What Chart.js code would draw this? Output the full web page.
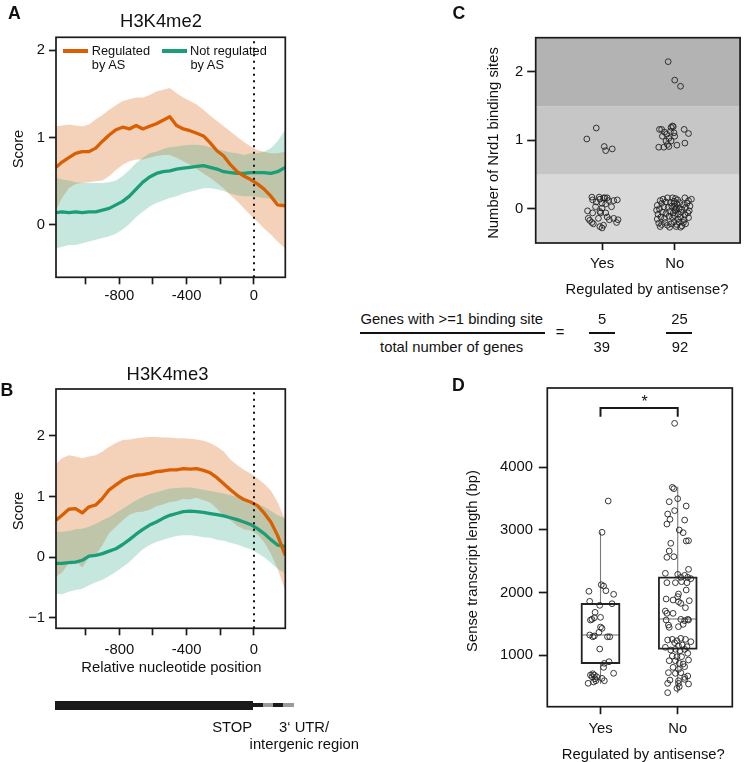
<!DOCTYPE html>
<html><head><meta charset="utf-8"><title>Figure</title>
<script src="https://cdn.jsdelivr.net/npm/chart.js@4.4.1/dist/chart.umd.min.js"></script>
<style>
html,body{margin:0;padding:0;background:#fff}
#fig{position:relative;width:745px;height:762px;overflow:hidden;font-family:"Liberation Sans",Arial,Helvetica,sans-serif;color:#111}
canvas{position:absolute}
.t{position:absolute;white-space:nowrap;line-height:1;font-size:14.8px}
.c{transform:translate(-50%,-50%)}
.l{transform:translate(0,-50%)}
.r{transform:translate(-50%,-50%) rotate(-90deg)}
.b{font-weight:bold;font-size:17.7px}
.bar{position:absolute}
</style></head><body><div id="fig">
<canvas id="chartA" width="300" height="310" style="left:0;top:0"></canvas>
<canvas id="chartB" width="300" height="300" style="left:0;top:370px"></canvas>
<canvas id="chartC" width="355" height="300" style="left:390px;top:0"></canvas>
<canvas id="chartD" width="355" height="392" style="left:390px;top:370px"></canvas>

<div class="t b l" style="left:8px;top:13.7px">A</div>
<div class="t c" style="left:161px;top:20.5px;font-size:18.4px">H3K4me2</div>
<div class="bar" style="left:63.3px;top:49px;width:25px;height:3.5px;background:#d95f02"></div>
<div class="bar" style="left:162.3px;top:49px;width:25px;height:3.5px;background:#1b9e77"></div>
<div class="t l" style="left:91.7px;top:50.5px;font-size:12.8px">Regulated</div>
<div class="t l" style="left:91.8px;top:65px;font-size:12.8px">by AS</div>
<div class="t l" style="left:190px;top:50.5px;font-size:12.8px">Not regulated</div>
<div class="t l" style="left:190.5px;top:65px;font-size:12.8px">by AS</div>
<div class="t r" style="left:17.5px;top:149px">Score</div>

<div class="t b l" style="left:0.5px;top:390.8px">B</div>
<div class="t c" style="left:167.5px;top:374px;font-size:18.4px">H3K4me3</div>
<div class="t r" style="left:18px;top:511px">Score</div>
<div class="t c" style="left:171.3px;top:667px">Relative nucleotide position</div>

<div class="bar" style="left:55px;top:701px;width:198.3px;height:9px;background:#1a1a1a"></div>
<div class="bar" style="left:253.3px;top:703.3px;width:9.4px;height:4px;background:#1a1a1a"></div>
<div class="bar" style="left:262.7px;top:703.3px;width:10px;height:4px;background:#9a9a9a"></div>
<div class="bar" style="left:272.7px;top:703.3px;width:10px;height:4px;background:#1a1a1a"></div>
<div class="bar" style="left:282.7px;top:703.3px;width:11.3px;height:4px;background:#9a9a9a"></div>
<div class="t c" style="left:232.2px;top:727.4px">STOP</div>
<div class="t l" style="left:279px;top:727.4px">3‘ UTR/</div>
<div class="t c" style="left:304.3px;top:744px">intergenic region</div>

<div class="t b l" style="left:452.6px;top:14.3px">C</div>
<div class="t r" style="left:492.5px;top:142.5px">Number of Nrd1 binding sites</div>
<div class="t c" style="left:647px;top:288.5px">Regulated by antisense?</div>

<div class="t c" style="left:451.7px;top:318.8px">Genes with &gt;=1 binding site</div>
<div class="bar" style="left:360px;top:331.8px;width:185px;height:1.9px;background:#111"></div>
<div class="t c" style="left:451.7px;top:347px">total number of genes</div>
<div class="t c" style="left:560px;top:332.3px">=</div>
<div class="t c" style="left:602px;top:318.8px">5</div>
<div class="bar" style="left:589.3px;top:331.8px;width:25.7px;height:1.9px;background:#111"></div>
<div class="t c" style="left:601.8px;top:347px">39</div>
<div class="t c" style="left:679.6px;top:318.8px">25</div>
<div class="bar" style="left:666px;top:331.8px;width:25.7px;height:1.9px;background:#111"></div>
<div class="t c" style="left:680px;top:347px">92</div>

<div class="t b l" style="left:452px;top:386.3px">D</div>
<div class="t c" style="left:644.7px;top:402px;font-size:16px">*</div>
<div class="t r" style="left:472px;top:560.8px">Sense transcript length (bp)</div>
<div class="t c" style="left:643.3px;top:753.8px">Regulated by antisense?</div>
</div>
<script>
// ---------- Panels A/B: metagene profiles ----------
const positions = [-1176,-1140,-1100,-1060,-1020,-980,-940,-900,-860,-820,-780,-740,-700,-660,-620,-580,-540,-500,-460,-420,-380,-340,-300,-260,-220,-180,-140,-100,-60,-20,20,60,100,140,186];

const a_reg_mean  = [0.66,0.72,0.77,0.82,0.84,0.84,0.88,0.96,1.03,1.09,1.12,1.10,1.14,1.10,1.13,1.16,1.20,1.24,1.14,1.10,1.08,1.05,1.02,0.94,0.85,0.79,0.69,0.61,0.56,0.52,0.47,0.41,0.33,0.23,0.22];
const a_reg_upper = [1.13,1.14,1.15,1.14,1.13,1.15,1.21,1.26,1.32,1.37,1.42,1.44,1.46,1.46,1.49,1.53,1.55,1.57,1.51,1.46,1.42,1.38,1.32,1.25,1.19,1.13,1.07,1.01,0.95,0.90,0.86,0.84,0.82,0.82,0.84];
const a_reg_lower = [0.17,0.31,0.42,0.47,0.48,0.49,0.50,0.51,0.56,0.63,0.69,0.73,0.75,0.75,0.77,0.79,0.80,0.80,0.77,0.73,0.69,0.64,0.59,0.54,0.48,0.42,0.34,0.27,0.19,0.11,0.04,-0.04,-0.11,-0.19,-0.27];
const a_not_mean  = [0.14,0.15,0.14,0.15,0.14,0.15,0.15,0.17,0.19,0.23,0.27,0.33,0.41,0.49,0.55,0.59,0.61,0.62,0.64,0.65,0.66,0.67,0.68,0.66,0.64,0.61,0.60,0.59,0.59,0.60,0.60,0.60,0.59,0.61,0.66];
const a_not_upper = [0.54,0.52,0.51,0.49,0.48,0.48,0.48,0.48,0.49,0.51,0.56,0.63,0.71,0.77,0.82,0.84,0.87,0.89,0.90,0.91,0.92,0.92,0.91,0.89,0.87,0.85,0.83,0.82,0.80,0.82,0.82,0.84,0.88,0.96,1.09];
const a_not_lower = [-0.27,-0.25,-0.23,-0.23,-0.21,-0.19,-0.17,-0.15,-0.13,-0.10,-0.05,0.01,0.09,0.15,0.21,0.25,0.28,0.31,0.33,0.36,0.38,0.40,0.42,0.42,0.41,0.39,0.36,0.34,0.33,0.33,0.32,0.31,0.30,0.27,0.21];

const b_reg_mean  = [0.61,0.69,0.79,0.80,0.73,0.83,0.86,0.97,1.11,1.19,1.27,1.32,1.35,1.36,1.38,1.41,1.42,1.44,1.44,1.46,1.45,1.46,1.43,1.39,1.31,1.21,1.11,1.02,0.95,0.91,0.85,0.73,0.58,0.36,0.03];
const b_reg_upper = [1.54,1.63,1.68,1.66,1.63,1.66,1.68,1.74,1.82,1.88,1.93,1.94,1.96,1.97,1.98,1.98,1.97,1.97,1.96,1.96,1.95,1.94,1.92,1.88,1.82,1.74,1.61,1.52,1.44,1.38,1.30,1.21,1.10,0.91,0.61];
const b_reg_lower = [-0.32,-0.25,-0.10,-0.06,-0.17,0.00,0.04,0.20,0.40,0.50,0.61,0.70,0.74,0.75,0.78,0.84,0.87,0.91,0.92,0.96,0.95,0.98,0.94,0.90,0.80,0.68,0.61,0.52,0.46,0.44,0.38,0.25,0.06,-0.19,-0.55];
const b_not_mean  = [-0.10,-0.10,-0.09,-0.08,-0.05,0.02,0.03,0.06,0.10,0.14,0.21,0.29,0.38,0.46,0.53,0.58,0.64,0.69,0.72,0.75,0.76,0.75,0.74,0.72,0.70,0.68,0.65,0.62,0.58,0.54,0.47,0.39,0.29,0.20,0.18];
const b_not_upper = [0.42,0.42,0.43,0.46,0.47,0.50,0.55,0.61,0.66,0.73,0.80,0.87,0.94,0.99,1.04,1.07,1.10,1.13,1.14,1.15,1.15,1.13,1.11,1.09,1.07,1.05,1.02,0.99,0.96,0.93,0.88,0.83,0.76,0.69,0.64];
const b_not_lower = [-0.60,-0.61,-0.57,-0.54,-0.52,-0.46,-0.41,-0.37,-0.31,-0.24,-0.16,-0.08,0.03,0.13,0.20,0.25,0.29,0.32,0.35,0.36,0.36,0.35,0.33,0.32,0.29,0.27,0.24,0.21,0.17,0.13,0.07,0.00,-0.09,-0.19,-0.27];

const profileXTicks  = [-1000,-800,-600,-400,-200,0];
const profileXLabels = ['','-800','','-400','','0'];
const a_yTicks = [0,1,2], a_yLabels = ['0','1','2'];
const b_yTicks = [-1,0,1,2], b_yLabels = ['\u22121','0','1','2'];

// ---------- Panel C: Nrd1 binding sites (jittered) ----------
const categories = ['Yes','No'];
const c_yes_x = [0.92,0.79,1.03,1.05,1.14,0.86,0.87,0.96,0.97,1.02,1.07,1.09,1.16,1.21,0.92,1.00,1.05,0.80,0.87,0.97,0.98,0.81,0.83,0.86,0.88,0.97,1.00,1.02,1.07,1.10,1.16,1.20,1.22,1.00,1.05,0.95,1.13,0.91,1.04];
const c_yes_sites = [1.18,1.02,0.91,0.85,0.875,0.17,0.13,0.17,0.14,0.16,0.16,0.12,0.12,0.13,0.10,0.08,0.07,-0.03,-0.06,-0.04,-0.06,-0.14,-0.17,-0.20,-0.22,-0.26,-0.28,-0.24,-0.12,-0.16,-0.14,-0.20,-0.16,0.01,-0.06,-0.14,0.03,0.03,0.16];
const c_no_x = [1.91,2.00,2.08,
 1.79,1.82,1.95,1.98,2.13,2.19,1.83,1.89,1.94,1.97,1.92,1.88,1.90,1.78,1.85,1.95,2.03,2.14,1.99,1.86,1.92,2.00,
 1.80,1.84,1.90,1.97,2.01,2.04,2.14,2.19,2.23,1.76,1.82,1.88,1.94,1.99,2.03,2.07,2.12,2.17,2.21,1.75,
 1.79,1.85,1.91,1.96,2.00,2.02,2.06,2.10,2.15,2.20,1.77,1.83,1.88,1.93,1.98,2.01,2.05,2.09,2.14,2.18,
 1.76,1.81,1.86,1.92,1.97,2.00,2.04,2.08,2.13,2.19,1.78,1.82,1.87,1.90,1.95,1.99,2.03,2.06,2.10,2.15,
 1.80,1.93,2.02,2.08,2.12,1.99,2.01];
const c_no_sites = [2.15,1.88,1.79,
 1.16,1.16,1.19,1.20,1.16,1.10,1.06,1.09,1.13,1.21,1.03,0.99,0.94,0.90,0.90,0.99,0.93,0.96,1.11,1.12,0.91,1.06,
 0.12,0.14,0.16,0.16,0.15,0.13,0.16,0.12,0.14,0.05,0.08,0.10,0.09,0.08,0.07,0.09,0.06,0.08,0.04,-0.02,
 0.00,0.03,0.02,0.04,0.03,0.01,0.00,-0.01,0.02,-0.03,-0.08,-0.05,-0.07,-0.04,-0.06,-0.03,-0.08,-0.05,-0.09,-0.06,
 -0.15,-0.12,-0.14,-0.11,-0.13,-0.10,-0.15,-0.12,-0.16,-0.13,-0.21,-0.23,-0.20,-0.24,-0.22,-0.19,-0.23,-0.20,-0.25,-0.22,
 -0.26,-0.27,-0.26,-0.27,-0.20,0.11,-0.01];
const c_yTicks = [0,1,2], c_yLabels = ['0','1','2'];
const c_bandEdges = [-0.5,0.5,1.5,2.5];

// ---------- Panel D: sense transcript length ----------
const d_yes_x = [1.10,1.02,0.85,1.01,1.04,1.07,1.17,0.86,0.99,1.15,0.93,0.89,0.92,1.00,0.87,1.00,0.98,0.86,0.90,0.92,1.09,1.12,1.02,0.99,1.05,1.11,1.04,1.17,0.90,0.92,0.89,0.95,0.94,0.84,1.05,0.87,1.02,0.91,0.93];
const d_yes_len = [3461,2961,2018,2123,2103,2028,1970,1858,1794,1820,1682,1570,1596,1602,1559,1447,1362,1320,1292,1304,1292,1292,1426,1096,867,893,803,708,701,680,653,653,589,548,589,680,627,569,621];
const d_no_x = [1.96,1.93,1.95,2.00,1.89,2.11,1.96,1.87,1.90,2.09,1.86,
 2.02,2.07,2.14,2.11,1.91,1.89,1.86,1.95,2.14,1.84,
 2.00,2.09,2.04,2.13,2.17,1.86,1.97,2.05,2.12,2.11,
 2.01,2.00,1.85,1.94,2.01,2.15,2.04,2.10,1.84,1.86,
 1.94,2.04,2.09,2.13,1.85,1.88,1.89,2.01,2.07,2.14,
 1.87,1.93,1.99,2.04,2.10,2.17,1.96,2.01,2.06,2.12,
 1.84,1.91,1.97,2.03,2.09,2.13,1.93,1.99,2.05,1.89,
 1.97,2.02,2.07,2.14,1.94,2.01,2.09,1.88,1.97,2.04,
 2.13,1.90,2.01,2.09,2.01,2.14,1.87,2.02,1.99,1.87,
 2.09];
const d_no_len = [4702,3679,3658,3498,3450,3381,3307,3253,3168,3157,3093,
 2998,2955,2827,2822,2785,2662,2561,2571,2369,2305,
 2289,2273,2241,2241,2220,2156,2156,2172,2156,2039,
 1975,1932,1895,1879,1852,1868,1826,1756,1703,1666,
 1666,1570,1549,1570,1559,1479,1442,1453,1490,1559,
 1240,1250,1229,1266,1250,1213,1197,1144,1160,1133,
 1123,1080,1091,1069,1091,1027,984,973,973,909,
 909,867,856,920,803,771,814,718,707,718,
 664,600,590,611,547,537,547,494,467,398,
 643];
const box_q1 = [872,1101];
const box_median = [1320,1575];
const box_q3 = [1815,2236];
const whisker_low = [548,398];
const whisker_high = [2961,3679];
const d_yTicks = [1000,2000,3000,4000], d_yLabels = ['1000','2000','3000','4000'];
const sig_bracket_y = 4947, sig_leg_y = 4808;

// ---------- rendering ----------
Chart.defaults.font.family = '"Liberation Sans", Arial, Helvetica, sans-serif';
Chart.defaults.font.size = 14.8;
Chart.defaults.color = '#111';
const ORANGE = '#d95f02', GREEN = '#1b9e77';
const pts = (xs, ys) => xs.map((x, i) => ({x: x, y: ys[i]}));
const base = () => ({responsive:false, animation:false, events:[], plugins:{legend:{display:false}, tooltip:{enabled:false}}});

function axis(o) {
  return {
    type:'linear', min:o.min, max:o.max,
    afterBuildTicks: s => { s.ticks = o.ticks.map(v => ({value:v})); },
    afterFit: s => { if (o.width != null) s.width = o.width; if (o.height != null) s.height = o.height; },
    ticks: {autoSkip:false, maxRotation:0, minRotation:0, padding:o.pad, color:'#111', font:{size:14.8}, callback:(v, i) => o.labels[i]},
    grid: {drawOnChartArea:false, drawTicks:true, tickLength:o.tl, tickColor:'#1a1a1a', tickWidth:1.7},
    border: {display:false}
  };
}
const framePlugin = {id:'frame', afterDatasetsDraw(chart) {
  const {ctx, chartArea:a} = chart; ctx.save(); ctx.strokeStyle = '#1a1a1a'; ctx.lineWidth = 1.7;
  ctx.strokeRect(a.left, a.top, a.right - a.left, a.bottom - a.top); ctx.restore(); }};

const X_MIN = -1176, X_MAX = 186;
function profile(id, d) {
  const band = (data, color, fill, order) => ({data, borderColor:'transparent', borderWidth:0, backgroundColor:color, fill, order, pointRadius:0});
  const opts = base();
  opts.layout = {padding:{left:0, top:d.padTop, right:d.padRight, bottom:0}};
  opts.elements = {point:{radius:0}, line:{tension:0, borderJoinStyle:'round'}};
  opts.scales = {
    x: axis({min:X_MIN, max:X_MAX, ticks:profileXTicks, labels:profileXLabels, tl:7, pad:d.xPad, height:d.xHeight}),
    y: axis({min:d.yMin, max:d.yMax, ticks:d.yTicks, labels:d.yLabels, tl:7, pad:4, width:56})
  };
  new Chart(document.getElementById(id), {type:'line', data:{datasets:[
    {data:pts(positions, d.regMean), borderColor:ORANGE, borderWidth:3.3, fill:false, order:1},
    {data:pts(positions, d.notMean), borderColor:GREEN, borderWidth:3.3, fill:false, order:2},
    {data:[{x:0, y:d.yMin}, {x:0, y:d.yMax}], borderColor:'#111', borderWidth:2, borderDash:[2, 4.5], borderCapStyle:'butt', fill:false, order:0},
    band(pts(positions, d.notUpper), 'rgba(27,158,119,0.25)', '+1', 3),
    band(pts(positions, d.notLower), 'transparent', false, 3),
    band(pts(positions, d.regUpper), 'rgba(217,95,2,0.28)', '+1', 4),
    band(pts(positions, d.regLower), 'transparent', false, 4)
  ]}, options:opts, plugins:[framePlugin]});
}
profile('chartA', {regMean:a_reg_mean, regUpper:a_reg_upper, regLower:a_reg_lower, notMean:a_not_mean, notUpper:a_not_upper, notLower:a_not_lower,
  yMin:-0.6, yMax:2.15, yTicks:a_yTicks, yLabels:a_yLabels, padTop:37.3, padRight:14.7, xHeight:32.7, xPad:3});
profile('chartB', {regMean:b_reg_mean, regUpper:b_reg_upper, regLower:b_reg_lower, notMean:b_not_mean, notUpper:b_not_upper, notLower:b_not_lower,
  yMin:-1.17, yMax:2.77, yTicks:b_yTicks, yLabels:b_yLabels, padTop:19, padRight:14.7, xHeight:41.7, xPad:5.5});

// Panel C
const catPos = [1, 2];
const bandFills = ['#d9d9d9', '#c6c6c6', '#b3b3b3'];
const bandsPlugin = {id:'bands', beforeDatasetsDraw(chart) {
  const {ctx, chartArea:a, scales:{y}} = chart; ctx.save();
  bandFills.forEach((c, i) => { const t = y.getPixelForValue(c_bandEdges[i+1]), b = y.getPixelForValue(c_bandEdges[i]);
    ctx.fillStyle = c; ctx.fillRect(a.left, t, a.right - a.left, b - t); });
  ctx.restore(); }};
const pointStyle = {pointRadius:2.9, pointBorderWidth:0.9, pointBorderColor:'#222', pointBackgroundColor:'rgba(0,0,0,0)', showLine:false};
{
  const opts = base();
  opts.layout = {padding:{left:0, top:37.7, right:1, bottom:0}};
  opts.scales = {
    x: axis({min:0.0865, max:2.90, ticks:catPos, labels:categories, tl:7, pad:5, height:57}),
    y: axis({min:-0.5, max:2.5, ticks:c_yTicks, labels:c_yLabels, tl:8.5, pad:4, width:145.7})
  };
  new Chart(document.getElementById('chartC'), {type:'scatter', data:{datasets:[
    Object.assign({data:pts(c_yes_x, c_yes_sites)}, pointStyle),
    Object.assign({data:pts(c_no_x, c_no_sites)}, pointStyle)
  ]}, options:opts, plugins:[bandsPlugin, framePlugin]});
}

// Panel D
{
  const H = 0.243;
  const seg = (data, color, w, order) => ({data, showLine:true, pointRadius:0, borderColor:color, borderWidth:w, fill:false, order, borderCapStyle:'square', tension:0});
  const ds = [];
  catPos.forEach((g, i) => {
    ds.push(seg([{x:g, y:whisker_low[i]}, {x:g, y:box_q1[i]}], '#7a7a7a', 1.1, 3));
    ds.push(seg([{x:g, y:box_q3[i]}, {x:g, y:whisker_high[i]}], '#7a7a7a', 1.1, 3));
    ds.push(seg([{x:g-H, y:box_q1[i]}, {x:g+H, y:box_q1[i]}, {x:g+H, y:box_q3[i]}, {x:g-H, y:box_q3[i]}, {x:g-H, y:box_q1[i]}], '#222', 1.8, 2));
    ds.push(seg([{x:g-H, y:box_median[i]}, {x:g+H, y:box_median[i]}], '#6a6a6a', 1.1, 2));
  });
  ds.push(Object.assign({data:pts(d_yes_x, d_yes_len), order:0}, pointStyle));
  ds.push(Object.assign({data:pts(d_no_x, d_no_len), order:0}, pointStyle));
  const br = seg([{x:catPos[0], y:sig_leg_y}, {x:catPos[0], y:sig_bracket_y}, {x:catPos[1], y:sig_bracket_y}, {x:catPos[1], y:sig_leg_y}], '#1a1a1a', 2, 1);
  br.borderCapStyle = 'butt'; br.borderJoinStyle = 'miter';
  ds.push(br);
  const opts = base();
  opts.layout = {padding:{left:0, top:18, right:12.7, bottom:0}};
  opts.scales = {
    x: axis({min:0.311, max:2.707, ticks:catPos, labels:categories, tl:7.5, pad:5.5, height:55.3}),
    y: axis({min:174, max:5267, ticks:d_yTicks, labels:d_yLabels, tl:8.5, pad:5.8, width:157.3})
  };
  new Chart(document.getElementById('chartD'), {type:'scatter', data:{datasets:ds}, options:opts, plugins:[framePlugin]});
}
</script>
</body></html>
